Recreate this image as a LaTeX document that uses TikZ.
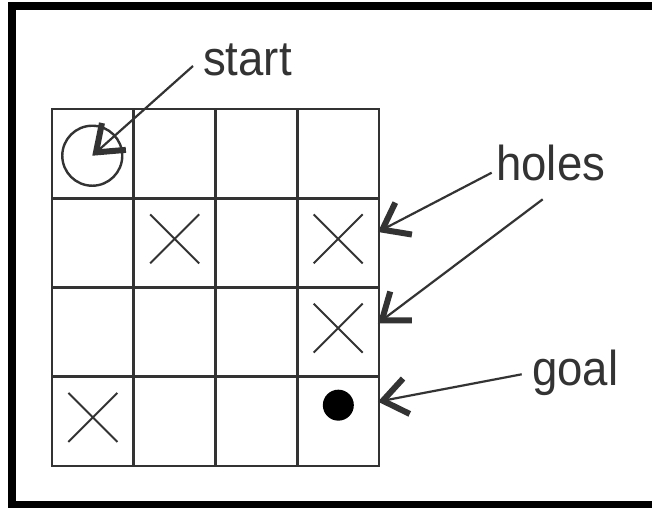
\documentclass[tikz,border=0pt]{standalone}
\usepackage{fontspec}
\setmainfont{Liberation Sans}[FakeStretch=0.93]
\usetikzlibrary{arrows.meta,calc}
\definecolor{lc}{HTML}{333333}
\tikzset{
  cell/.style={draw=lc, line width=2.8pt, minimum width=81.75pt, minimum height=89.25pt, inner sep=0pt, anchor=center},
  xm/.style={draw=lc, line width=1.8pt},
  lbl/.style={text=lc, font=\fontsize{49}{49}\selectfont, inner sep=0pt, anchor=base west},
  arr/.style={draw=lc, line width=2.2pt, -{Straight Barb[length=24pt,width=36pt,line width=6pt]}},
}
\newcommand\crossat[1]{\draw[xm] ($(#1.center)+(-24.5,-28.5)$) -- ($(#1.center)+(24.5,20.5)$)
  ($(#1.center)+(-24.5,20.5)$) -- ($(#1.center)+(24.5,-28.5)$);}
\begin{document}
\begin{tikzpicture}[x=1pt,y=-1pt]
\useasboundingbox (0,0) rectangle (652,510);
\fill[white] (0,0) rectangle (652,510);
% frame
\fill[black] (8,2) rectangle (652,10);
\fill[black] (8,2) rectangle (16,508);
\fill[black] (8,501) rectangle (652,508);
% grid
\foreach \r in {0,...,3}{
  \foreach \c in {0,...,3}{
    \node[cell] (c\r\c) at ({52+81.75*(\c+0.5)},{109+89.25*(\r+0.5)}) {};
  }
}
% holes
\crossat{c11}
\crossat{c13}
\crossat{c23}
\crossat{c30}
% start circle and goal dot
\node[circle, draw=lc, line width=2.4pt, minimum size=60pt, inner sep=0pt] (startc) at ($(c00.center)+(-0.6,2.1)$) {};
\node[circle, fill=black, minimum size=31pt, inner sep=0pt] (goald) at ($(c33.center)+(0.2,-16.2)$) {};
% labels
\node[lbl] (startl) at (203,76) {start};
\node[lbl] (holesl) at (496,181) {holes};
\node[lbl] (goall) at (532,385) {goal};
% arrow ends
\coordinate (st) at ($(startl.base west)+(-10,-10)$);
\coordinate (h1) at ($(holesl.base west)+(-4.3,-8.3)$);
\coordinate (h2) at ($(holesl.base west)+(46.7,18.3)$);
\coordinate (gt) at ($(goall.base west)+(-10.3,-10.7)$);
\coordinate (h1tip) at ($(c13.east)+(-2.5,-10.9)$);
\coordinate (h2tip) at ($(c23.east)+(-2.5,-8.8)$);
\coordinate (gtip) at ($(c33.east)+(-2.5,-19.7)$);
\draw[arr] (st) -- (startc.center);
\draw[arr] (h1) -- (h1tip);
\draw[arr] (h2) -- (h2tip);
\draw[arr] (gt) -- (gtip);
\end{tikzpicture}
\end{document}
